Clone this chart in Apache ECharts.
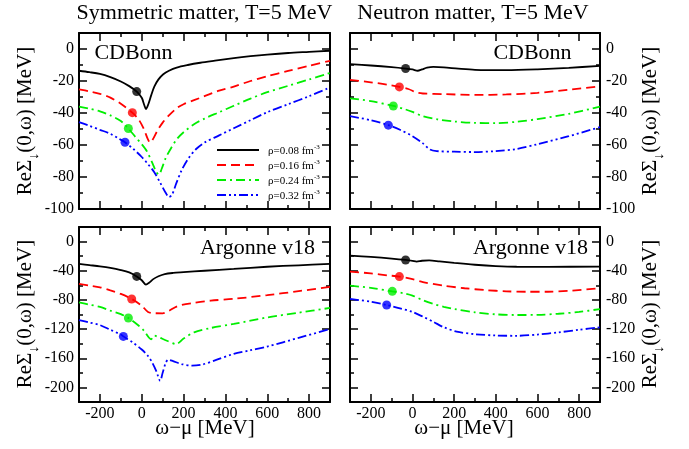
<!DOCTYPE html>
<html><head><meta charset="utf-8">
<script src="https://cdn.jsdelivr.net/npm/echarts@6/dist/echarts.min.js"></script>
<style>html,body{margin:0;padding:0;background:#fff}#c{width:689px;height:449px}</style>
</head><body><div id="c"></div>
<script>
// ---------- data ----------
const densities = ['0.08', '0.16', '0.24', '0.32'];
const panelTitles = ['Symmetric matter, T=5 MeV', 'Neutron matter, T=5 MeV'];
const potentialLabels = ['CDBonn', 'CDBonn', 'Argonne v18', 'Argonne v18'];
const xMajorTicks = [-200, 0, 200, 400, 600, 800];
const xMinorTicks = [-100, 100, 300, 500, 700];
const yTopMajorTicks = [0, -20, -40, -60, -80, -100];
const yTopMinorTicks = [-10, -30, -50, -70, -90];
const yBotMajorTicks = [0, -40, -80, -120, -160, -200];
const yBotMinorTicks = [-20, -60, -100, -140, -180];

// Symmetric matter, CDBonn
const symCDB_008 = [[-300,-13.6],[-250,-14.5],[-200,-15.6],[-150,-17.6],[-100,-20.3],[-60,-23.2],[-24,-26.6],[0,-30.5],[12,-35],[20,-37.5],[30,-35],[45,-29],[60,-23.5],[80,-19],[103,-15.8],[130,-13.6],[167,-11.6],[220,-10],[280,-8.6],[350,-7.3],[440,-5.7],[520,-4.5],[600,-3.5],[700,-2.5],[800,-1.8],[900,-1.1]];
const symCDB_016 = [[-300,-25.2],[-250,-26.5],[-200,-28],[-150,-30.4],[-100,-34.2],[-45,-39.8],[-15,-44],[10,-50],[28,-56],[40,-58.5],[55,-56],[75,-51],[100,-46],[130,-41.5],[167,-37],[200,-34.5],[250,-32],[300,-29.5],[370,-26],[440,-23.5],[520,-20],[600,-17],[700,-13.7],[800,-10.5],[900,-7.4]];
const symCDB_024 = [[-300,-36],[-250,-37.3],[-200,-39],[-150,-41.5],[-100,-45],[-64,-49.7],[-30,-55],[0,-59.5],[25,-64],[50,-71],[70,-77],[82,-78.5],[95,-75],[115,-68],[140,-62],[170,-56],[200,-52],[250,-47],[300,-43.5],[370,-39.5],[440,-35.5],[520,-31],[600,-27],[700,-23],[800,-19],[900,-15]];
const symCDB_032 = [[-300,-45.7],[-250,-48],[-200,-50.5],[-150,-53],[-110,-56],[-80,-58.3],[-40,-62.5],[0,-67.5],[30,-72],[60,-77],[90,-84],[115,-90],[130,-92.5],[145,-91],[165,-84],[190,-76],[220,-69],[260,-62.5],[300,-58.5],[370,-54],[440,-49.5],[520,-44.5],[600,-39.5],[700,-34.5],[800,-29.5],[900,-24]];
const symCDB_pts = [[-24,-26.6],[-45,-39.8],[-64,-49.7],[-80,-58.3]];

// Neutron matter, CDBonn
const neuCDB_008 = [[-300,-9.4],[-200,-10.3],[-100,-11.3],[-33,-12.2],[0,-12.8],[25,-13.6],[45,-12.8],[70,-11.7],[100,-11.2],[150,-11.5],[220,-12.3],[300,-13],[450,-13.2],[600,-12.7],[750,-11.8],[900,-10.5]];
const neuCDB_016 = [[-300,-19.3],[-200,-20.8],[-120,-22.3],[-63,-23.7],[-20,-25],[20,-27.2],[50,-27.8],[150,-28.2],[300,-28.7],[450,-28.4],[600,-27.4],[750,-25.5],[900,-23.3]];
const neuCDB_024 = [[-300,-30.8],[-200,-32.6],[-92,-35.6],[-40,-37.5],[0,-39.3],[50,-42],[120,-44],[200,-45.3],[300,-46.2],[400,-46.3],[500,-45.5],[600,-43.8],[750,-40.5],[900,-36]];
const neuCDB_032 = [[-300,-42],[-200,-44.5],[-116,-47.6],[-60,-50.5],[0,-54.5],[50,-59],[84,-62.8],[116,-63.8],[200,-64.2],[300,-64.4],[400,-63.8],[500,-62.5],[600,-59.5],[750,-54.5],[900,-48.8]];
const neuCDB_pts = [[-33,-12.2],[-63,-23.7],[-92,-35.6],[-116,-47.6]];

// Symmetric matter, Argonne v18
const symAV_008 = [[-300,-30.7],[-250,-32.3],[-200,-33.9],[-150,-36],[-100,-39],[-60,-42.3],[-24,-47.8],[0,-53],[20,-59],[35,-56.5],[55,-51.5],[80,-47.5],[110,-44.5],[150,-43],[200,-42],[300,-40],[440,-37.5],[600,-34.5],[750,-32.5],[900,-30.7]];
const symAV_016 = [[-300,-58],[-250,-60.3],[-200,-62.7],[-150,-67],[-100,-71.8],[-48,-78.7],[0,-88],[30,-96.5],[60,-98.2],[100,-98.4],[130,-95],[160,-90],[190,-87],[250,-84],[330,-81],[440,-78.5],[600,-73.5],[750,-68],[900,-62]];
const symAV_024 = [[-300,-83.3],[-250,-86.5],[-200,-89.5],[-150,-94.7],[-100,-99.5],[-64,-104.8],[-20,-114],[10,-122],[45,-134],[60,-129],[80,-131],[120,-136],[165,-140.5],[200,-133],[250,-124.5],[330,-118.5],[440,-113],[600,-104],[750,-97.5],[900,-91]];
const symAV_032 = [[-300,-107.6],[-250,-111],[-200,-114.5],[-150,-121],[-100,-127.5],[-88,-130],[-40,-139],[0,-148],[30,-157],[50,-166],[70,-178],[88,-191],[100,-180],[115,-166],[127,-162],[150,-164],[190,-168],[240,-170],[290,-168.5],[350,-163],[440,-154],[520,-149],[600,-144],[750,-132],[900,-120]];
const symAV_pts = [[-24,-47.8],[-48,-78.7],[-64,-104.8],[-88,-130]];

// Neutron matter, Argonne v18
const neuAV_008 = [[-300,-19.2],[-200,-21],[-100,-23.3],[-33,-25.2],[0,-26.5],[20,-27.5],[45,-26.3],[80,-25.8],[130,-27.2],[200,-29.3],[300,-31.8],[400,-33.6],[500,-34.5],[650,-34.6],[900,-34.3]];
const neuAV_016 = [[-300,-41.2],[-200,-43.6],[-120,-46.3],[-63,-48],[0,-51.5],[50,-55.5],[150,-60.5],[250,-64],[350,-66.5],[450,-68.2],[550,-68.8],[650,-68.8],[750,-67.5],[900,-64]];
const neuAV_024 = [[-300,-60.4],[-200,-63.5],[-97,-68.2],[-40,-71],[0,-74],[50,-80.5],[100,-85.5],[150,-89.5],[200,-92.5],[300,-97],[400,-99.8],[500,-100.7],[600,-100.5],[700,-99],[800,-96.5],[900,-92.5]];
const neuAV_032 = [[-300,-78.7],[-200,-82.5],[-124,-87],[-60,-91.5],[0,-96.5],[50,-103],[100,-110],[150,-117.5],[212,-123.5],[300,-127],[400,-128.8],[500,-129.2],[600,-127.5],[700,-124.5],[800,-121],[900,-117.5]];
const neuAV_pts = [[-33,-25.2],[-63,-48],[-97,-68.2],[-124,-87]];

const panelCurves = [
  [symCDB_008, symCDB_016, symCDB_024, symCDB_032],
  [neuCDB_008, neuCDB_016, neuCDB_024, neuCDB_032],
  [symAV_008, symAV_016, symAV_024, symAV_032],
  [neuAV_008, neuAV_016, neuAV_024, neuAV_032]
];
const panelPoints = [symCDB_pts, neuCDB_pts, symAV_pts, neuAV_pts];

// ---------- styling ----------
const FONT = 'Liberation Serif';
const colors = ['#000000', '#ff0000', '#00ee00', '#0000ff'];
const dashes = ['solid', [9, 5], [9, 4, 2, 4], [9, 3, 2, 3, 2, 3]];
const grids = [
  { left: 79, top: 33, width: 251, height: 176 },
  { left: 350, top: 33, width: 250, height: 176 },
  { left: 79, top: 227, width: 251, height: 175 },
  { left: 350, top: 227, width: 250, height: 175 }
];

const xAxes = [], yAxes = [], series = [];
const black = '#000';
function tickAxis(base, ticks, len, showLine, labels) {
  return Object.assign({}, base, {
    axisLine: { show: showLine, onZero: false, lineStyle: { color: black, width: 2 } },
    axisTick: { show: true, inside: true, length: len, customValues: ticks, lineStyle: { color: black, width: 1.5 } },
    axisLabel: labels ? Object.assign({ show: true, customValues: ticks, color: black, fontFamily: FONT, fontSize: 16 }, labels) : { show: false },
    splitLine: { show: false }
  });
}
grids.forEach((g, gi) => {
  const isBottom = gi >= 2, isRight = gi % 2 === 1;
  const xb = { type: 'value', gridIndex: gi, min: -300, max: 900 };
  const yb = isBottom ? { type: 'value', gridIndex: gi, min: -220, max: 20 } : { type: 'value', gridIndex: gi, min: -100, max: 10 };
  const yMaj = isBottom ? yBotMajorTicks : yTopMajorTicks;
  const yMin = isBottom ? yBotMinorTicks : yTopMinorTicks;
  const xMainIndex = xAxes.length;
  xAxes.push(tickAxis(Object.assign({ position: 'bottom' }, xb), xMajorTicks, 8, true, isBottom ? { margin: 4 } : null));
  xAxes.push(tickAxis(Object.assign({ position: 'bottom' }, xb), xMinorTicks, 4, false, null));
  xAxes.push(tickAxis(Object.assign({ position: 'top' }, xb), xMajorTicks, 8, true, null));
  xAxes.push(tickAxis(Object.assign({ position: 'top' }, xb), xMinorTicks, 4, false, null));
  const yMainIndex = yAxes.length;
  yAxes.push(tickAxis(Object.assign({ position: 'left' }, yb), yMaj, 8, true, isRight ? null : { margin: 5 }));
  yAxes.push(tickAxis(Object.assign({ position: 'left' }, yb), yMin, 4, false, null));
  yAxes.push(tickAxis(Object.assign({ position: 'right' }, yb), yMaj, 8, true, isRight ? { margin: 6 } : null));
  yAxes.push(tickAxis(Object.assign({ position: 'right' }, yb), yMin, 4, false, null));

  panelCurves[gi].forEach((curve, ci) => {
    series.push({
      type: 'line', name: 'ρ=' + densities[ci], xAxisIndex: xMainIndex, yAxisIndex: yMainIndex,
      data: curve, symbol: 'none', showSymbol: false, smooth: 0.3, clip: true,
      lineStyle: { color: colors[ci], width: 1.8, type: dashes[ci] }, itemStyle: { color: colors[ci] }, z: 3
    });
  });
  series.push({
    type: 'scatter', name: 'Fermi' + gi, xAxisIndex: xMainIndex, yAxisIndex: yMainIndex, symbolSize: 9, z: 5,
    data: panelPoints[gi].map((p, i) => ({ value: p, itemStyle: { color: colors[i] } }))
  });
});

const ylabelRich = {
  m: { fontFamily: FONT, fontSize: 21, lineHeight: 22, fill: black, color: black },
  s: { fontFamily: FONT, fontSize: 14, lineHeight: 14, padding: [18, 0, 0, 0], color: black, fill: black }
};
const yTitle = '{m|ReΣ}{s|↓}{m|(0,ω) [MeV]}';
function txt(text, x, y, size, extra) {
  return Object.assign({ type: 'text', x: x, y: y, style: { text: text, fontFamily: FONT, fontSize: size, fill: black, align: 'center', verticalAlign: 'middle' } }, extra || {});
}
const graphics = [
  txt(panelTitles[0], 204.5, 13, 22),
  txt(panelTitles[1], 473, 13, 22),
  txt(potentialLabels[0], 133.5, 53, 22),
  txt(potentialLabels[1], 532.5, 53, 22),
  txt(potentialLabels[2], 257.5, 248, 22),
  txt(potentialLabels[3], 530.5, 248, 22),
  txt('ω−μ [MeV]', 205, 428, 21),
  txt('ω−μ [MeV]', 464, 428, 21),
];
[[25, 121], [25, 314], [650, 121], [650, 314]].forEach(p => {
  graphics.push({ type: 'text', x: p[0], y: p[1], rotation: Math.PI / 2,
    style: { text: yTitle, rich: ylabelRich, fontFamily: FONT, fontSize: 21, fill: black, align: 'center', verticalAlign: 'middle' } });
});

const chart = echarts.init(document.getElementById('c'), null, { renderer: 'canvas' });
chart.setOption({
  animation: false,
  backgroundColor: '#fff',
  grid: grids.map(g => Object.assign({ containLabel: false }, g)),
  xAxis: xAxes,
  yAxis: yAxes,
  legend: {
    left: 211, top: 138, orient: 'vertical', itemWidth: 42, itemHeight: 12, itemGap: 1,
    data: densities.map(d => 'ρ=' + d),
    itemStyle: { opacity: 0 },
    formatter: name => '{a|' + name + ' fm}{s|-3}',
    textStyle: { color: black, fontFamily: FONT, fontSize: 11,
      rich: { a: { fontFamily: FONT, fontSize: 11, lineHeight: 13, color: black, padding: [3, 0, 0, 4] },
              s: { fontFamily: FONT, fontSize: 7, lineHeight: 8, color: black, padding: [0, 0, 6, 0] } } }
  },
  graphic: graphics,
  series: series
});
</script>
</body></html>
